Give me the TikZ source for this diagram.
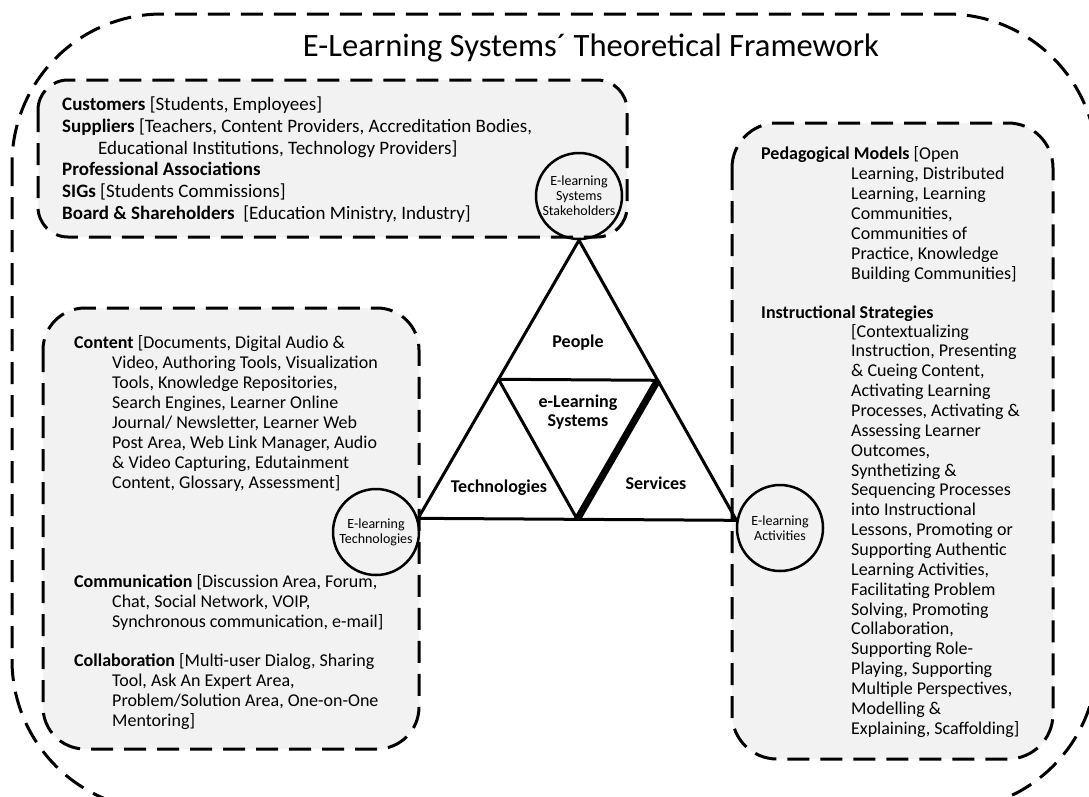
\documentclass[tikz,border=0pt]{standalone}
\usepackage{fontspec}
\setmainfont{Carlito}
\usetikzlibrary{calc}
\definecolor{boxgray}{HTML}{F2F2F2}
\newcommand{\bodyfont}{\fontsize{18}{20}\selectfont}
\newcommand{\topfont}{\fontsize{19}{21.8}\selectfont}
\newcommand{\hubfont}{\fontsize{14}{15}\selectfont}

\begin{document}
\begin{tikzpicture}[x=1pt,y=-1pt,line join=round]
		\tikzstyle{frame}=[draw=black,line width=3pt,dash pattern=on 22pt off 11pt]
		\tikzstyle{panel}=[frame,fill=boxgray]
		\tikzstyle{hub}=[circle,draw=black,line width=2.5pt,minimum size=86pt,inner sep=0pt,align=center,font=\hubfont]
		\tikzstyle{edgeline}=[line width=3pt]
		\tikzstyle{facet}=[font=\bodyfont\bfseries,align=center,inner sep=0pt]
		\tikzstyle{itemtext}=[anchor=north west,inner sep=0pt,align=left,font=\bodyfont]

		\useasboundingbox (0,0) rectangle (1089,796);

		% outer frame and the three panels
		\draw[frame,rounded corners=150pt] (12,14) rectangle (1097,810);
		\draw[panel,rounded corners=30pt] (38,80) rectangle (627,237);
		\draw[panel,rounded corners=42pt] (43,308) rectangle (419,749);
		\draw[panel,rounded corners=45pt] (732,123) rectangle (1053,759);

		\node[anchor=base,font=\fontsize{32.6}{36}\selectfont] (title) at (591,56) {E-Learning Systems´ Theoretical Framework};

		\node[hub]	(stake)	at (579,196)	{E-learning\\Systems\\Stakeholders};
		\node[hub]	(tech)	at (376,532)	{E-learning\\Technologies};
		\node[hub]	(act)	at (780,528)	{E-learning\\Activities};

		% the triangle hangs between the three circles
		\coordinate (apex) at (stake.south);
		\coordinate (west) at (tech.18);
		\coordinate (east) at (act.170);
		\coordinate (midW) at ($(apex)!0.5!(west)$);
		\coordinate (midE) at ($(apex)!0.5!(east)$);
		\coordinate (midS) at ($(west)!0.5!(east)$);
		\draw[edgeline] (apex) -- (west) -- (east) -- cycle;
		\draw[edgeline] (midW) -- (midE) -- (midS) -- cycle;
		\draw[line width=7pt] (midE) -- (midS);

		\node[facet]	(people)	at (578,343)	{People};
		\node[facet,font=\fontsize{18}{19}\selectfont\bfseries]	(core)	at (578,412)	{e-Learning\\Systems};
		\node[facet]	(techno)	at (499,488)	{Technologies};
		\node[facet]	(serv)		at (656,483)	{Services};

		% stakeholders
		\node[itemtext,font=\topfont] (who) at (62,95) {\strut\textbf{Customers} [Students, Employees]\\
			\textbf{Suppliers} [Teachers, Content Providers, Accreditation Bodies,\\
			\hspace*{36pt}Educational Institutions, Technology Providers]\\
			\textbf{Professional Associations}\\
			\textbf{SIGs} [Students Commissions]\\
			\textbf{Board \& Shareholders}\ \ [Education Ministry, Industry]};

		% technologies
		\node[itemtext] (content) at (74,334) {\strut\textbf{Content} [Documents, Digital Audio \&};
		\node[itemtext] (contentmore) at (112,354) {\strut Video, Authoring Tools, Visualization\\
			Tools, Knowledge Repositories,\\
			Search Engines, Learner Online\\
			Journal/ Newsletter, Learner Web\\
			Post Area, Web Link Manager, Audio\\
			\& Video Capturing, Edutainment\\
			Content, Glossary, Assessment]};
		\node[itemtext] (comm) at (74,573) {\strut\textbf{Communication} [Discussion Area, Forum,};
		\node[itemtext] (commmore) at (112,593) {\strut Chat, Social Network, VOIP,\\
			Synchronous communication, e-mail]};
		\node[itemtext] (collab) at (74,652) {\strut\textbf{Collaboration} [Multi-user Dialog, Sharing};
		\node[itemtext] (collabmore) at (112,672) {\strut Tool, Ask An Expert Area,\\
			Problem/Solution Area, One-on-One\\
			Mentoring]};

		% activities
		\node[itemtext] (peda) at (761,145) {\strut\textbf{Pedagogical Models} [Open};
		\node[itemtext] (pedamore) at (851,165) {\strut Learning, Distributed\\
			Learning, Learning\\
			Communities,\\
			Communities of\\
			Practice, Knowledge\\
			Building Communities]};
		\node[itemtext] (instr) at (761,304) {\strut\textbf{Instructional Strategies}};
		\node[itemtext,font=\fontsize{18}{19.85}\selectfont] (instrmore) at (851,323) {\strut [Contextualizing\\
			Instruction, Presenting\\
			\& Cueing Content,\\
			Activating Learning\\
			Processes, Activating \&\\
			Assessing Learner\\
			Outcomes,\\
			Synthetizing \&\\
			Sequencing Processes\\
			into Instructional\\
			Lessons, Promoting or\\
			Supporting Authentic\\
			Learning Activities,\\
			Facilitating Problem\\
			Solving, Promoting\\
			Collaboration,\\
			Supporting Role-\\
			Playing, Supporting\\
			Multiple Perspectives,\\
			Modelling \&\\
			Explaining, Scaffolding]};
\end{tikzpicture}
\end{document}
